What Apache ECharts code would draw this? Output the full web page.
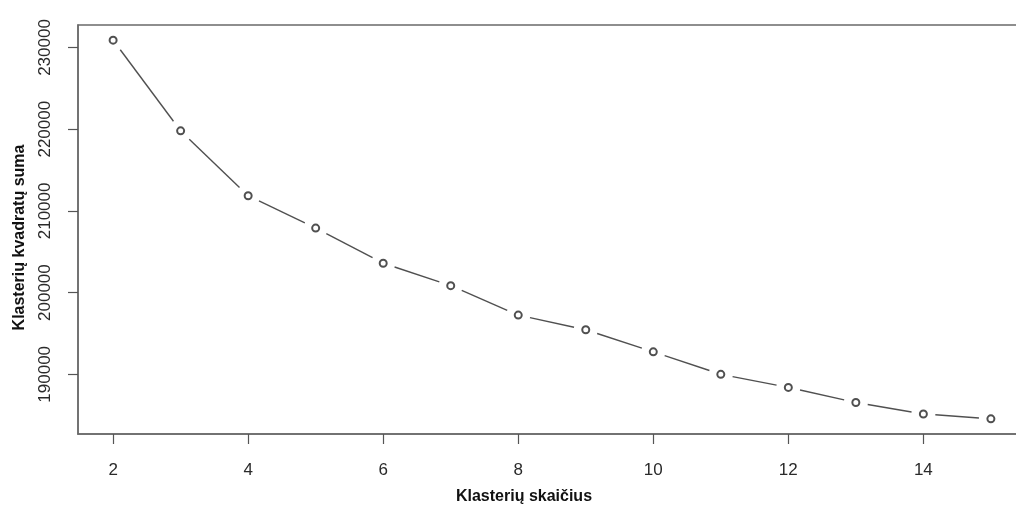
<!DOCTYPE html>
<html>
<head>
<meta charset="utf-8">
<script src="https://cdn.jsdelivr.net/npm/echarts@6/dist/echarts.min.js"></script>
<style>
  html, body { margin: 0; padding: 0; background: #fff; }
  #chart { width: 1016px; height: 507px; }
</style>
</head>
<body>
<div id="chart"></div>
<script>
// Elbow curve: within-cluster sum of squares by number of clusters
const clusters = [2, 3, 4, 5, 6, 7, 8, 9, 10, 11, 12, 13, 14, 15];
const wss = [230900, 219800, 211850, 207900, 203600, 200850, 197250, 195450, 192750, 190000, 188400, 186550, 185150, 184550];
const xTicks = [2, 4, 6, 8, 10, 12, 14];
const yTicks = [190000, 200000, 210000, 220000, 230000];

// 4% padding on each side of the data range, like base R graphics
function padded(arr) {
  const lo = Math.min(...arr), hi = Math.max(...arr), d = (hi - lo) * 0.04;
  return [lo - d, hi + d];
}
const [xMin, xMax] = padded(clusters);
const [yMin, yMax] = padded(wss);

const points = clusters.map((c, i) => [c, wss[i]]);
// index pairs of consecutive points, drawn as segments that stop short of each marker
const segIndex = clusters.slice(1).map((_, i) => i);
const GAP = 12;

const labelFont = 'Liberation Sans, Arial, sans-serif';
const frame = '#6a6a6a';
const ink = '#505050';

const chart = echarts.init(document.getElementById('chart'), null, { renderer: 'canvas' });
chart.setOption({
  animation: false,
  backgroundColor: '#fff',
  grid: {
    left: 78, top: 25, bottom: 73, right: -10,
    outerBoundsMode: 'none',
    show: true, borderColor: frame, borderWidth: 1.5, backgroundColor: 'transparent'
  },
  xAxis: {
    type: 'value', min: xMin, max: xMax,
    name: 'Klasterių skaičius', nameLocation: 'middle', nameGap: 55,
    nameTextStyle: { fontFamily: labelFont, fontWeight: 'bold', fontSize: 16, color: '#111', padding: [0, 56, 0, 0] },
    axisLine: { show: true, onZero: false, lineStyle: { color: frame, width: 1.5 } },
    axisTick: { show: true, length: 10, customValues: xTicks, lineStyle: { color: '#555', width: 1.2 } },
    axisLabel: { customValues: xTicks, margin: 28, fontFamily: labelFont, fontSize: 17, color: '#2a2a2a',
                 formatter: v => String(v) },
    splitLine: { show: false }
  },
  yAxis: {
    type: 'value', min: yMin, max: yMax,
    name: 'Klasterių kvadratų suma', nameLocation: 'middle', nameGap: 50,
    nameTextStyle: { fontFamily: labelFont, fontWeight: 'bold', fontSize: 16, color: '#111', padding: [0, 16, 0, 0] },
    axisLine: { show: true, onZero: false, lineStyle: { color: frame, width: 1.5 } },
    axisTick: { show: true, length: 10, customValues: yTicks, lineStyle: { color: '#555', width: 1.2 } },
    axisLabel: { customValues: yTicks, rotate: 90, margin: 24, fontFamily: labelFont, fontSize: 17, color: '#2a2a2a',
                 formatter: v => String(v) },
    splitLine: { show: false }
  },
  series: [
    {
      // connecting segments with a gap around every point
      type: 'custom', data: segIndex, z: 2, silent: true,
      renderItem: (params, api) => {
        const i = params.dataIndex;
        const a = api.coord(points[i]);
        const b = api.coord(points[i + 1]);
        const dx = b[0] - a[0], dy = b[1] - a[1];
        const len = Math.hypot(dx, dy);
        if (len <= 2 * GAP) return null;
        const ux = dx / len, uy = dy / len;
        return {
          type: 'line',
          shape: { x1: a[0] + ux * GAP, y1: a[1] + uy * GAP, x2: b[0] - ux * GAP, y2: b[1] - uy * GAP },
          style: { stroke: ink, lineWidth: 1.4 }
        };
      }
    },
    {
      // open circle markers
      type: 'scatter', data: points, z: 4,
      symbol: 'emptyCircle', symbolSize: 7,
      itemStyle: { color: ink, borderColor: ink, borderWidth: 1.5, opacity: 1 },
      emphasis: { disabled: true }
    }
  ]
});
</script>
</body>
</html>
